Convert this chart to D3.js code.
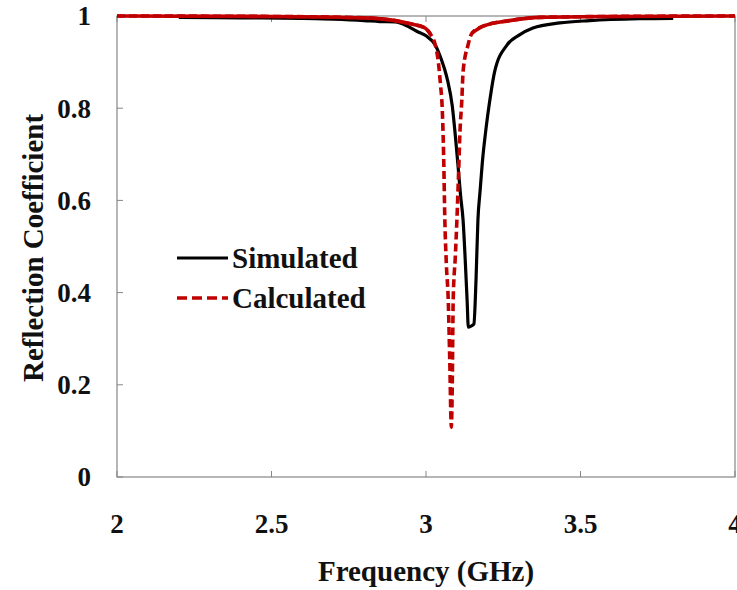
<!DOCTYPE html>
<html>
<head>
<meta charset="utf-8">
<script src="https://cdn.jsdelivr.net/npm/d3@7"></script>
<style>
  body { margin: 0; background: #fff; }
  text { font-family: "Liberation Serif", "Times New Roman", serif; font-weight: bold; fill: #111; }
</style>
</head>
<body>
<svg width="737" height="590"></svg>
<script>
// simulated curve (black, solid)
const simFreq = [2.2, 2.4, 2.6, 2.7, 2.8, 2.85, 2.9, 2.94, 2.97, 3.0, 3.03, 3.05, 3.06, 3.07, 3.085,
	3.095, 3.104, 3.112, 3.12, 3.127, 3.133, 3.137, 3.148, 3.155, 3.162, 3.168, 3.175, 3.182,
	3.195, 3.205, 3.222, 3.262, 3.3, 3.346, 3.433, 3.53, 3.69, 3.8];
const simVal = [0.997, 0.996, 0.995, 0.993, 0.99, 0.988, 0.987, 0.978, 0.967, 0.957, 0.937, 0.905, 0.885, 0.86, 0.805,
	0.74, 0.672, 0.61, 0.557, 0.47, 0.384, 0.325, 0.328, 0.332, 0.43, 0.557, 0.62, 0.68,
	0.76, 0.81, 0.879, 0.937, 0.958, 0.974, 0.985, 0.99, 0.994, 0.995];

// calculated curve (red, dashed)
const calcFreq = [2.0, 2.5, 2.8, 2.9, 2.95, 2.997, 3.015, 3.03, 3.04, 3.047, 3.052, 3.057, 3.061, 3.066,
	3.072, 3.077, 3.082, 3.085, 3.088, 3.095, 3.1, 3.105, 3.11, 3.116, 3.12, 3.136, 3.149, 3.185,
	3.27, 3.37, 3.6, 4.0];
const calcVal = [1.0, 0.999, 0.996, 0.99, 0.983, 0.974, 0.96, 0.937, 0.9, 0.85, 0.807, 0.7, 0.557, 0.46,
	0.384, 0.25, 0.108, 0.2, 0.384, 0.48, 0.557, 0.65, 0.75, 0.818, 0.879, 0.937, 0.963, 0.978,
	0.99, 0.997, 0.999, 1.0];

const xTicks = [2, 2.5, 3, 3.5, 4];
const yTicks = [0, 0.2, 0.4, 0.6, 0.8, 1];
const legendNames = ['Simulated', 'Calculated'];

const margin = { top: 16, right: 2, bottom: 113, left: 117 };
const width = 737 - margin.left - margin.right;
const height = 590 - margin.top - margin.bottom;

const svg = d3.select('svg');
const g = svg.append('g').attr('transform', `translate(${margin.left},${margin.top})`);

const x = d3.scaleLinear().domain([2, 4]).range([0, width]);
const y = d3.scaleLinear().domain([0, 1]).range([height, 0]);

const axisColor = '#868686';

// frame
g.append('rect')
	.attr('width', width).attr('height', height)
	.attr('fill', 'none').attr('stroke', axisColor).attr('stroke-width', 1.2);

// inside ticks
const tick = 6;
g.selectAll('.xt').data(xTicks).enter().append('line')
	.attr('x1', d => x(d)).attr('x2', d => x(d))
	.attr('y1', height).attr('y2', height - tick)
	.attr('stroke', axisColor);
g.selectAll('.xtt').data(xTicks).enter().append('line')
	.attr('x1', d => x(d)).attr('x2', d => x(d))
	.attr('y1', 0).attr('y2', tick)
	.attr('stroke', axisColor);
g.selectAll('.yt').data(yTicks).enter().append('line')
	.attr('x1', 0).attr('x2', tick)
	.attr('y1', d => y(d)).attr('y2', d => y(d))
	.attr('stroke', axisColor);

// tick labels
g.selectAll('.xl').data(xTicks).enter().append('text')
	.attr('x', d => x(d)).attr('y', height + 56)
	.attr('text-anchor', 'middle')
	.style('font-size', '27px')
	.text(d => d);
g.selectAll('.yl').data(yTicks).enter().append('text')
	.attr('x', -26).attr('y', d => y(d)).attr('dy', '0.35em')
	.attr('text-anchor', 'end')
	.style('font-size', '27px')
	.text(d => d);

// axis titles
svg.append('text')
	.attr('x', margin.left + x(3)).attr('y', 581)
	.attr('text-anchor', 'middle')
	.style('font-size', '29px')
	.text('Frequency (GHz)');
svg.append('text')
	.attr('transform', 'translate(43,248) rotate(-90)')
	.attr('text-anchor', 'middle')
	.style('font-size', '29px')
	.text('Reflection Coefficient');

const sim = simFreq.map((f, i) => ({ f, v: simVal[i] }));
const calc = calcFreq.map((f, i) => ({ f, v: calcVal[i] }));

const line = d3.line().x(d => x(d.f)).y(d => y(d.v)).curve(d3.curveMonotoneX);

const red = '#c00000';

g.append('path').datum(sim)
	.attr('d', line)
	.attr('fill', 'none').attr('stroke', '#000').attr('stroke-width', 3.2);

// red: dashed in the dip, looks solid where the points crowd near 1
g.append('path').datum(calc)
	.attr('d', line)
	.attr('fill', 'none').attr('stroke', red).attr('stroke-width', 3.6)
	.attr('stroke-dasharray', '8,4');
g.append('path').datum(calc)
	.attr('d', line.defined(d => d.v >= 0.96))
	.attr('fill', 'none').attr('stroke', red).attr('stroke-width', 3.6);

// legend
const legend = svg.append('g');
legendNames.forEach((name, i) => {
	const ly = 258 + i * 40;
	legend.append('line')
		.attr('x1', 177).attr('x2', 228).attr('y1', ly).attr('y2', ly)
		.attr('stroke', i === 0 ? '#000' : red)
		.attr('stroke-width', i === 0 ? 3.2 : 3.6)
		.attr('stroke-dasharray', i === 0 ? null : '10,5');
	legend.append('text')
		.attr('x', 232).attr('y', ly).attr('dy', '0.33em')
		.style('font-size', '29px')
		.text(name);
});
</script>
</body>
</html>
